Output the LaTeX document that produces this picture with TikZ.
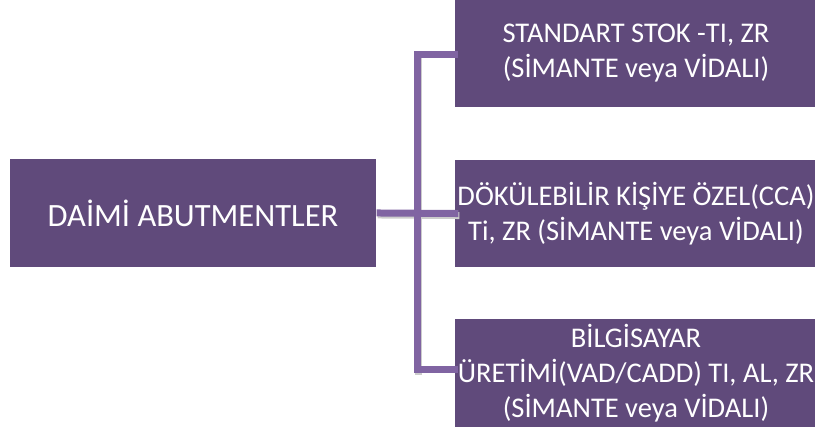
\documentclass[tikz,border=0pt]{standalone}
\usepackage{fontspec}
\setmainfont{Carlito}
\begin{document}
\begin{tikzpicture}[x=1pt,y=-1pt,
  box/.style={fill=boxpurple, draw=none, text=white, align=center, inner sep=0pt},
  conn/.style={draw=linepurple, line width=7pt, line cap=rect},
  shadowline/.style={draw=black!20, line width=7pt, line cap=rect}]
\definecolor{boxpurple}{RGB}{96,74,123}
\definecolor{linepurple}{RGB}{128,100,162}
\useasboundingbox (0,0) rectangle (815,427);
\node[box, minimum width=366pt, minimum height=108pt, font=\fontsize{32.5}{38}\selectfont] (root) at (193,213) {DAİMİ ABUTMENTLER};
\node[box, minimum width=362pt, minimum height=107pt, font=\fontsize{28.5}{35}\selectfont] (c1) at (636,53.5) {STANDART STOK -TI, ZR\\(SİMANTE veya VİDALI)};
\node[box, minimum width=362pt, minimum height=107pt, font=\fontsize{28.5}{35}\selectfont] (c2) at (636,213.5) {DÖKÜLEBİLİR KİŞİYE ÖZEL(CCA)\\Ti, ZR (SİMANTE veya VİDALI)};
\node[box, minimum width=362pt, minimum height=108pt, font=\fontsize{28.5}{35}\selectfont] (c3) at (636,373) {BİLGİSAYAR\\ÜRETİMİ(VAD/CADD) TI, AL, ZR\\(SİMANTE veya VİDALI)};
\coordinate (t) at (417,55);
\coordinate (b) at (417,370);
% shadows
\begin{scope}[transform canvas={shift={(1pt,-2pt)}}]
\draw[shadowline] (t) -- (b);
\draw[shadowline] ([xshift=4pt]root.east) -- (c2.west);
\end{scope}
\draw[conn] (c1.west |- t) -- (t) -- (b) -- (c3.west |- b);
\draw[conn] ([xshift=4pt]root.east) -- (c2.west);
\end{tikzpicture}
\end{document}
